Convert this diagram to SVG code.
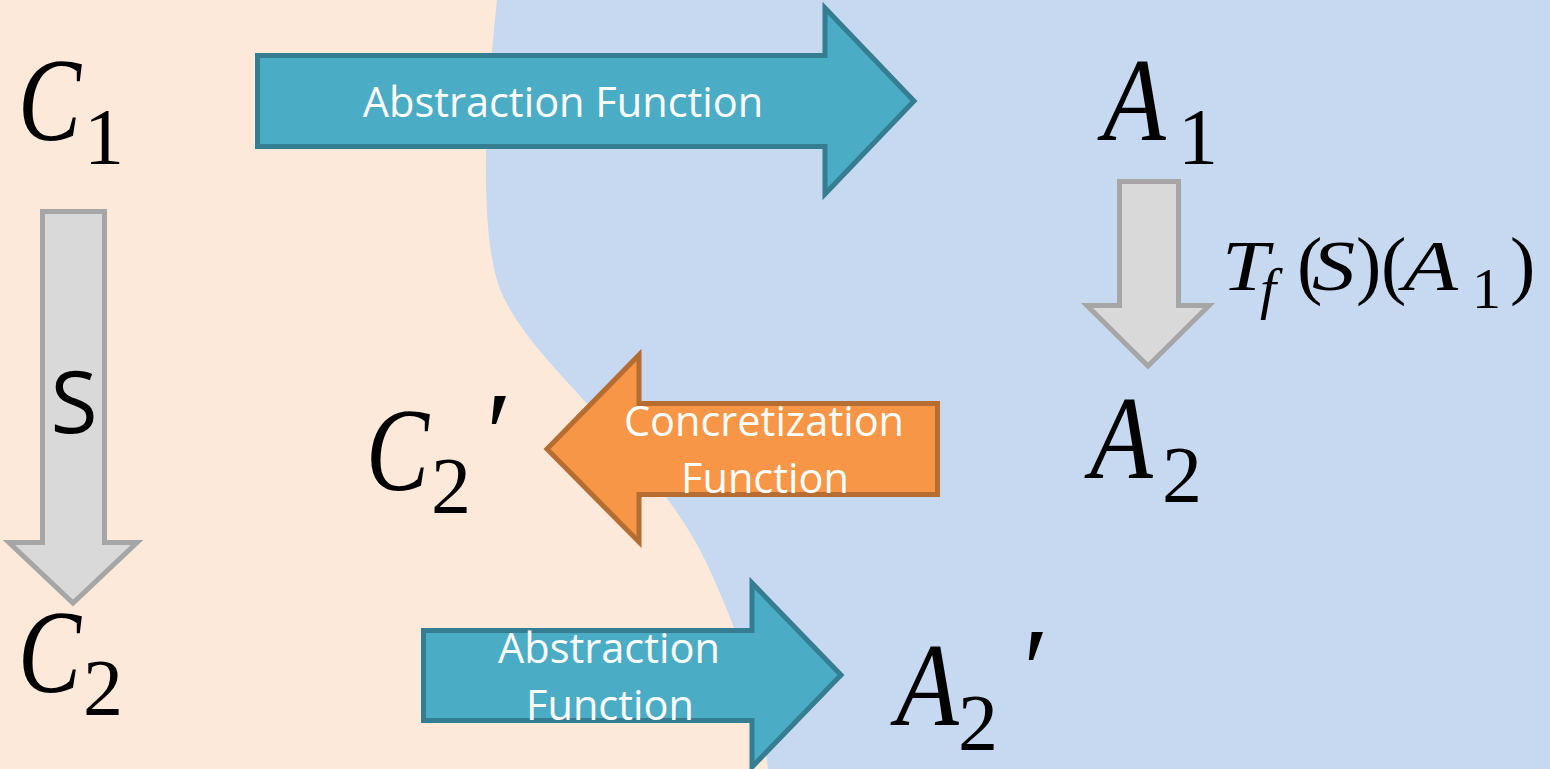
<svg xmlns="http://www.w3.org/2000/svg" width="1550" height="769" viewBox="0 0 1550 769">
<style>
.teal{fill:#4BACC6;stroke:#357D91;stroke-width:5;stroke-linejoin:miter}
.gray{fill:#D9D9D9;stroke:#A6A6A6;stroke-width:5;stroke-linejoin:miter}
.orange{fill:#F79646;stroke:#B66D31;stroke-width:5;stroke-linejoin:miter}
.lbl{font-family:"Open Sans","Liberation Sans",sans-serif;font-size:41.5px;fill:#FFFFFF;text-anchor:middle}
.mi{font-family:"Liberation Serif","DejaVu Serif",serif;font-style:italic;fill:#000}
.mn{font-family:"Liberation Serif","DejaVu Serif",serif;fill:#000}
</style>
<rect x="0" y="0" width="1550" height="769" fill="#FDE9D9"/>
<path d="M497 0 C484 120 478 250 505 300 C540 370 640 440 700 550 C740 630 760 700 768 769 L1550 769 L1550 0 Z" fill="#C6D9F0"/>
<g id="connectors">
<g id="abs-top"><polygon class="teal" points="257.5,55.5 825,55.5 825,8 914,101 825,194 825,146.5 257.5,146.5"/><text class="lbl" x="563" y="117">Abstraction Function</text></g>
<g id="s-arrow"><polygon class="gray" points="42.5,211.5 104.5,211.5 104.5,542.5 137,542.5 73,603 9,542.5 42.5,542.5"/><text x="74" y="433" font-family="Open Sans, Liberation Sans, sans-serif" font-size="86" text-anchor="middle" fill="#000">S</text></g>
<g id="t-arrow"><polygon class="gray" points="1119.5,181.5 1178.5,181.5 1178.5,305.5 1209,305.5 1148,366 1087,305.5 1119.5,305.5"/></g>
<g id="conc"><polygon class="orange" points="937.5,403.5 639,403.5 639,355 547,449 639,542 639,494.5 937.5,494.5"/><text class="lbl" x="764" y="436">Concretization</text><text class="lbl" x="765" y="493">Function</text></g>
<g id="abs-bottom"><polygon class="teal" points="423.5,630.5 752,630.5 752,583 841,675 752,767 752,720.5 423.5,720.5"/><text class="lbl" x="609" y="663">Abstraction</text><text class="lbl" x="610" y="720">Function</text></g>
</g>
<g id="C1"><text class="mi" font-size="118" transform="translate(18,140) scale(0.8,1)">C</text><text class="mn" x="84" y="164" font-size="80">1</text></g>
<g id="A1"><text class="mi" font-size="118" transform="translate(1103,140) scale(0.87,1)">A</text><text class="mn" x="1178" y="164" font-size="80">1</text></g>
<g id="Tf">
<text class="mi" font-size="72" transform="translate(1222,290) scale(1.17,1)">T</text>
<text class="mi" x="1260" y="308" font-size="58">f</text>
<text class="mn" x="1297" y="290" font-size="76">(</text>
<text class="mi" font-size="72" transform="translate(1312,290) scale(1.2,1)">S</text>
<text class="mn" x="1356" y="290" font-size="76">)</text>
<text class="mn" x="1381" y="290" font-size="76">(</text>
<text class="mi" font-size="72" transform="translate(1403,290) scale(1.25,1)">A</text>
<text class="mn" x="1472" y="308" font-size="58">1</text>
<text class="mn" x="1510" y="290" font-size="76">)</text>
</g>
<g id="A2"><text class="mi" font-size="118" transform="translate(1090,478) scale(0.87,1)">A</text><text class="mn" x="1162" y="502" font-size="80">2</text></g>
<g id="C2p"><text class="mi" font-size="118" transform="translate(366,490) scale(0.8,1)">C</text><text class="mn" x="431" y="513" font-size="80">2</text><text class="mn" x="486" y="474" font-size="118">′</text></g>
<g id="C2"><text class="mi" font-size="118" transform="translate(18,692) scale(0.8,1)">C</text><text class="mn" x="83" y="715" font-size="80">2</text></g>
<g id="A2p"><text class="mi" font-size="118" transform="translate(896,725) scale(0.87,1)">A</text><text class="mn" x="958" y="750" font-size="80">2</text><text class="mn" x="1023" y="710" font-size="118">′</text></g>
</svg>
